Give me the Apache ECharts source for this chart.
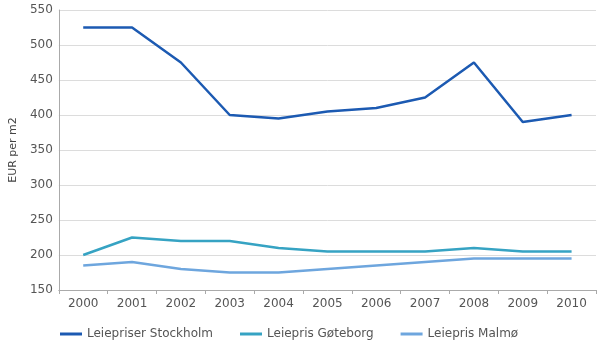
<!DOCTYPE html>
<html>
<head>
<meta charset="utf-8">
<script src="https://cdn.jsdelivr.net/npm/echarts@6/dist/echarts.min.js"></script>
<style>
  html, body { margin: 0; padding: 0; background: #fff; }
  #chart { width: 597px; height: 342px; }
</style>
</head>
<body>
<div id="chart"></div>
<script>
// Rental prices, EUR per m2, 2000–2010
const years = ['2000', '2001', '2002', '2003', '2004', '2005', '2006', '2007', '2008', '2009', '2010'];
const stockholm = [525, 525, 475, 400, 395, 405, 410, 425, 475, 390, 400];
const goteborg = [200, 225, 220, 220, 210, 205, 205, 205, 210, 205, 205];
const malmo = [185, 190, 180, 175, 175, 180, 185, 190, 195, 195, 195];
const seriesNames = ['Leiepriser Stockholm', 'Leiepris Gøteborg', 'Leiepris Malmø'];

const font = '"DejaVu Sans", sans-serif';
const chart = echarts.init(document.getElementById('chart'));

function line(name, data, color) {
  return {
    name: name,
    type: 'line',
    data: data,
    symbol: 'none',
    lineStyle: { color: color, width: 2.5 },
    itemStyle: { color: color }
  };
}

chart.setOption({
  animation: false,
  textStyle: { fontFamily: font },
  grid: { left: 56, right: 1, top: 10, bottom: 52 },
  legend: {
    bottom: -3,
    left: 55,
    itemWidth: 22,
    itemHeight: 3,
    itemGap: 27,
    icon: 'rect',
    textStyle: { color: '#555', fontSize: 12, fontFamily: font },
    data: seriesNames
  },
  xAxis: {
    type: 'category',
    data: years,
    boundaryGap: true,
    axisLine: { lineStyle: { color: '#aaa' } },
    axisTick: { show: true, lineStyle: { color: '#aaa' }, length: 4 },
    axisLabel: { color: '#555', fontSize: 12, margin: 8, fontFamily: font }
  },
  yAxis: {
    type: 'value',
    min: 150,
    max: 550,
    interval: 50,
    name: 'EUR per m2',
    nameLocation: 'middle',
    nameGap: 36,
    nameTextStyle: { color: '#444', fontSize: 11, fontFamily: font },
    axisLine: { show: true, lineStyle: { color: '#aaa' } },
    axisTick: { show: false },
    axisLabel: { color: '#555', fontSize: 12, margin: 6, fontFamily: font },
    splitLine: { lineStyle: { color: '#dcdcdc' } }
  },
  series: [
    line(seriesNames[0], stockholm, '#1c5ab2'),
    line(seriesNames[1], goteborg, '#36a3c3'),
    line(seriesNames[2], malmo, '#6ea6de')
  ]
});
</script>
</body>
</html>
